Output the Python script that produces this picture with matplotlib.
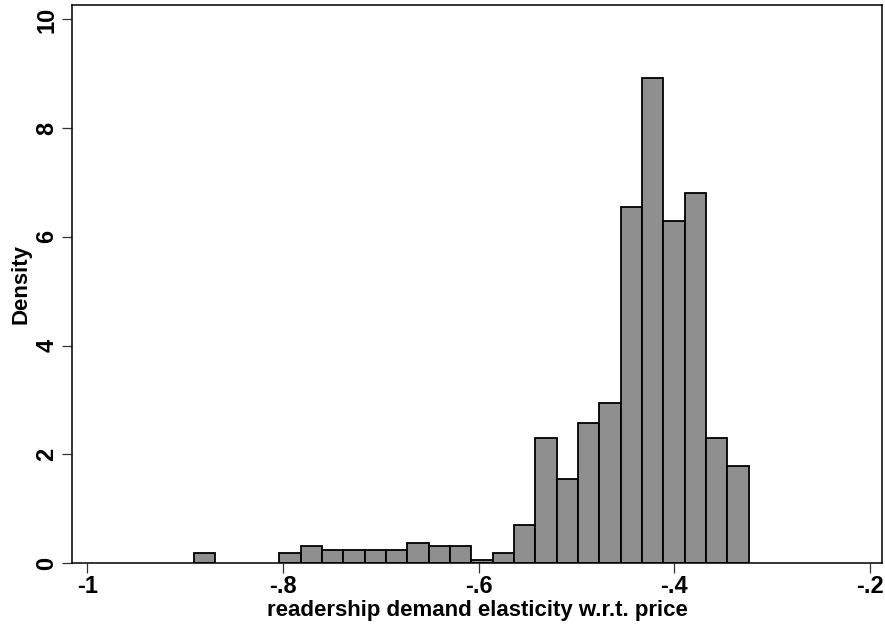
import numpy as np
import matplotlib.pyplot as plt

# histogram bins (Stata style: start at min, fixed width)
bin_start = -0.891
bin_width = 0.02182
density = [0.184, 0.0, 0.0, 0.0, 0.184, 0.313, 0.246, 0.246, 0.246, 0.246,
           0.375, 0.313, 0.313, 0.055, 0.184, 0.707, 2.30, 1.54, 2.57, 2.95,
           6.55, 8.92, 6.30, 6.80, 2.30, 1.79]
x_ticks = [-1.0, -0.8, -0.6, -0.4, -0.2]
x_ticklabels = ['-1', '-.8', '-.6', '-.4', '-.2']
y_ticks = [0, 2, 4, 6, 8, 10]

plt.rcParams['font.family'] = ['Liberation Sans', 'DejaVu Sans']
plt.rcParams['font.weight'] = 'bold'

fig = plt.figure(figsize=(8.85, 6.31), dpi=100)
ax = fig.add_axes([0.0819, 0.1078, 0.9144, 0.8838])

density = np.array(density)
edges = bin_start + bin_width * np.arange(len(density))
keep = density > 0  # empty bins are not drawn
ax.bar(edges[keep], density[keep], width=bin_width, align='edge',
       color='#8f8f8f', edgecolor='black', linewidth=1.3)

ax.set_xlim(-1.0152, -0.1878)
ax.set_ylim(0, 10.26)
ax.set_xticks(x_ticks)
ax.set_xticklabels(x_ticklabels)
ax.set_yticks(y_ticks)
ax.set_yticklabels([str(v) for v in y_ticks], rotation=90, va='center')

for s in ax.spines.values():
    s.set_linewidth(1.1)
    s.set_color('black')

ax.tick_params(axis='both', length=7, width=0.9, color='#333333',
               labelsize=17)
ax.tick_params(axis='x', pad=2)
ax.tick_params(axis='y', pad=3)

ax.set_xlabel('readership demand elasticity w.r.t. price', fontsize=16,
              fontweight='bold', labelpad=1)
ax.set_ylabel('Density', fontsize=16, fontweight='bold', labelpad=3)

fig.savefig('out.png', dpi=100)
